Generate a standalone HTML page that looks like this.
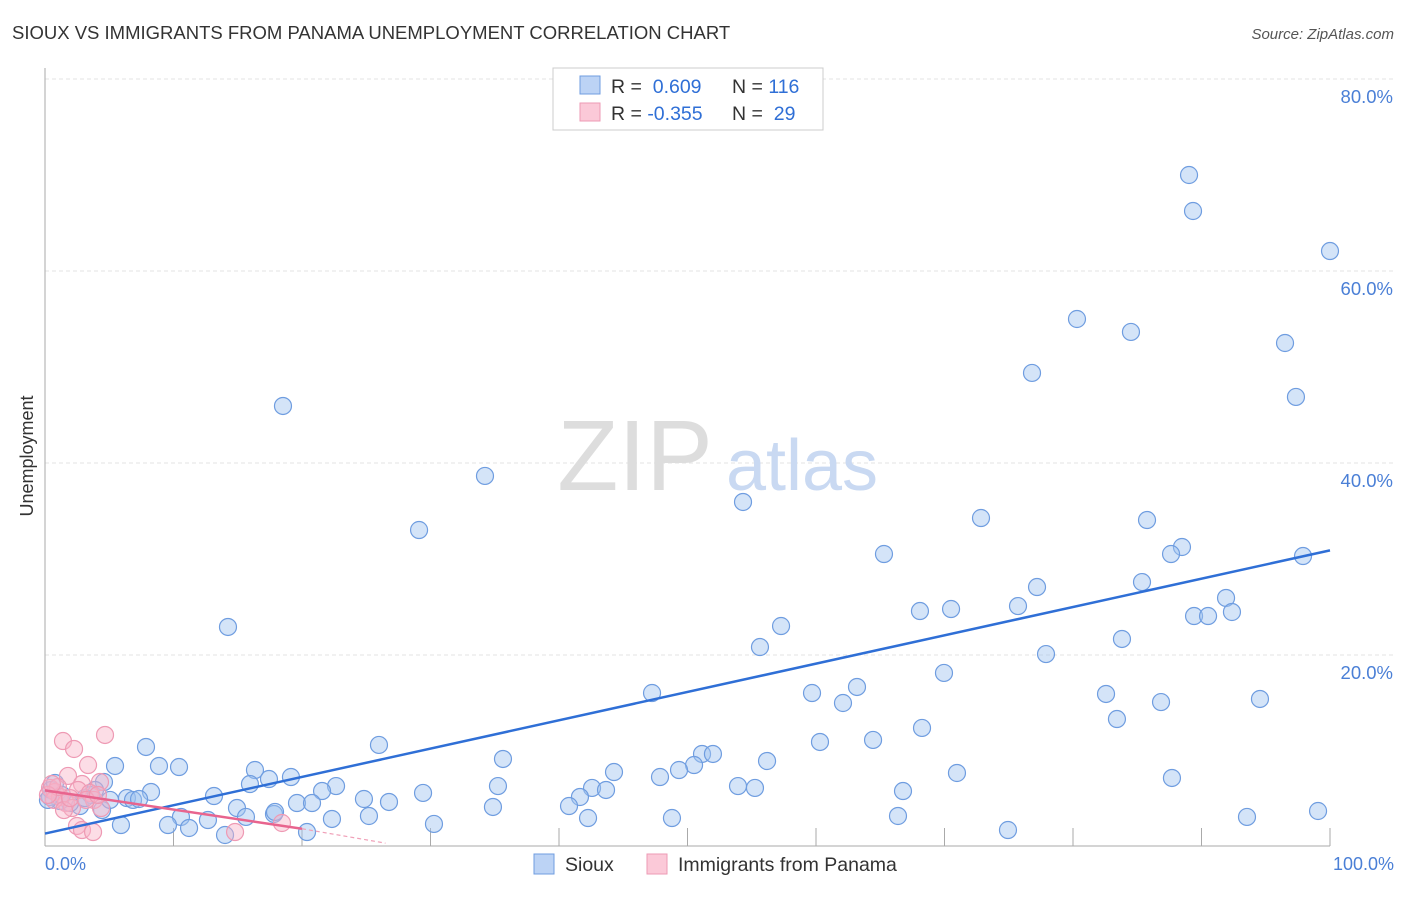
<!DOCTYPE html>
<html><head><meta charset="utf-8"><style>
body{margin:0;background:#fff;font-family:"Liberation Sans",sans-serif}
svg text{font-family:"Liberation Sans",sans-serif}
</style></head><body>
<svg width="1406" height="892">
<text x="12" y="39" font-size="18.5" fill="#333">SIOUX VS IMMIGRANTS FROM PANAMA UNEMPLOYMENT CORRELATION CHART</text>
<text x="1394" y="39" font-size="15" fill="#555" font-style="italic" text-anchor="end">Source: ZipAtlas.com</text>
<g id="grid"></g>
<text x="635" y="490" font-size="100" fill="#ddd" font-family="Liberation Serif" text-anchor="middle">ZIP</text>
<text x="802" y="490" font-size="72" fill="#c9d9f2" text-anchor="middle">atlas</text>
<line x1="45" y1="68" x2="45" y2="846" stroke="#aaa"/>
<line x1="45" y1="846" x2="1330" y2="846" stroke="#aaa"/>
<g id="pts"></g>
<g id="lines"></g>
<text x="33" y="456" font-size="18" fill="#333" transform="rotate(-90 33 456)" text-anchor="middle">Unemployment</text>
<text x="45" y="870" font-size="18" fill="#4a7fd6">0.0%</text>
<text x="1394" y="870" font-size="18" fill="#4a7fd6" text-anchor="end">100.0%</text>
<g>
<rect x="553" y="68" width="270" height="62" fill="#fff" stroke="#ccc"/>
<rect x="580" y="76" width="20" height="18" fill="#bcd3f5" stroke="#6f9de0"/>
<rect x="580" y="103" width="20" height="18" fill="#fbc9d8" stroke="#ee9ab4"/>
<text x="611" y="93" font-size="19.5" fill="#333">R = <tspan fill="#2f6fd6">&#160;0.609</tspan><tspan x="732">N = </tspan><tspan fill="#2f6fd6">116</tspan></text>
<text x="611" y="120" font-size="19.5" fill="#333">R = <tspan fill="#2f6fd6">-0.355</tspan><tspan x="732">N = </tspan><tspan fill="#2f6fd6">&#160;29</tspan></text>
</g>
<g>
<rect x="534" y="854" width="20" height="20" fill="#bcd3f5" stroke="#6f9de0"/>
<text x="565" y="871" font-size="19.5" fill="#333">Sioux</text>
<rect x="647" y="854" width="20" height="20" fill="#fbc9d8" stroke="#ee9ab4"/>
<text x="678" y="871" font-size="19.5" fill="#333">Immigrants from Panama</text>
</g>
</svg>
<script>
const yTicks=[20,40,60,80];
const xTicks=[10,20,30,40,50,60,70,80,90,100];
const siouxPx=[[1189,175],[1193,211],[1330,251],[1077,319],[1131,332],[1285,343],[1032,373],[1296,397],[283,406],[485,476],[743,502],[419,530],[981,518],[1147,520],[884,554],[1182,547],[1171,554],[1303,556],[1142,582],[1037,587],[1226,598],[920,611],[951,609],[1018,606],[1194,616],[1208,616],[1232,612],[228,627],[781,626],[760,647],[1122,639],[1046,654],[944,673],[652,693],[812,693],[857,687],[1106,694],[843,703],[1161,702],[1260,699],[1117,719],[922,728],[873,740],[820,742],[146,747],[379,745],[702,754],[713,754],[503,759],[694,765],[767,761],[115,766],[159,766],[179,767],[255,770],[614,772],[291,777],[269,779],[957,773],[660,777],[679,770],[1172,778],[498,786],[738,786],[755,788],[104,782],[250,784],[336,786],[592,788],[606,790],[151,792],[322,791],[214,796],[127,798],[133,800],[91,795],[139,799],[364,799],[389,802],[423,793],[580,797],[297,803],[312,803],[903,791],[237,808],[493,807],[569,806],[102,810],[80,806],[70,803],[60,801],[50,797],[274,814],[208,820],[181,817],[246,817],[275,812],[168,825],[369,816],[332,819],[898,816],[588,818],[672,818],[1247,817],[1318,811],[121,825],[434,824],[189,828],[225,835],[307,832],[1008,830],[51,790],[55,783],[48,800],[62,795],[85,798],[95,790],[110,800]];
const panamaPx=[[63,741],[74,749],[105,735],[88,765],[68,776],[82,784],[78,790],[100,782],[50,788],[55,792],[60,797],[66,803],[72,808],[90,793],[94,800],[101,808],[77,826],[82,830],[93,832],[235,832],[282,823],[54,800],[58,787],[48,795],[64,810],[70,798],[52,784],[86,800],[98,795]];
const siouxX=siouxPx.map(p=>+((p[0]-45)/12.85).toFixed(2));
const siouxY=siouxPx.map(p=>+((847-p[1])/9.6).toFixed(2));
const panamaX=panamaPx.map(p=>+((p[0]-45)/12.85).toFixed(2));
const panamaY=panamaPx.map(p=>+((847-p[1])/9.6).toFixed(2));
const siouxTrend=[[0,1.4],[100,30.9]];
const panamaTrend=[[0,5.9],[20,1.9],[26.5,0.4]];
const sx=v=>45+v*12.85, sy=v=>847-v*9.6;
const NS="http://www.w3.org/2000/svg";
function mk(t,a){const e=document.createElementNS(NS,t);for(const k in a)e.setAttribute(k,a[k]);return e;}
const g=document.getElementById('grid');
yTicks.forEach(v=>{
 const l=mk('line',{x1:45,x2:1394,y1:sy(v),y2:sy(v),stroke:'#e3e3e3','stroke-dasharray':'4,3'});
 
 
 g.appendChild(l);
 const t=mk('text',{x:1393,y:sy(v)+24,'font-size':18.5,fill:'#4a7fd6','text-anchor':'end'});
 t.textContent=v.toFixed(1)+'%';
 
 
 g.appendChild(t);
});
xTicks.forEach(v=>{
 const l=mk('line',{x1:sx(v),x2:sx(v),y1:828,y2:846,stroke:'#aaa'});
 
 
 g.appendChild(l);
});
const P=document.getElementById('pts');
siouxX.forEach((x,i)=>{
 const c=mk('circle',{cx:sx(x),cy:sy(siouxY[i]),r:8.5,fill:'rgba(160,195,240,0.45)',stroke:'#6f9de0','stroke-width':1.2});
 
 
 P.appendChild(c);
});
panamaX.forEach((x,i)=>{
 const c=mk('circle',{cx:sx(x),cy:sy(panamaY[i]),r:8.5,fill:'rgba(248,180,200,0.45)',stroke:'#ee9ab4','stroke-width':1.2});
 
 
 P.appendChild(c);
});
const L=document.getElementById('lines');
let l1=mk('line',{x1:sx(siouxTrend[0][0]),y1:sy(siouxTrend[0][1]),x2:sx(siouxTrend[1][0]),y2:sy(siouxTrend[1][1]),stroke:'#2f6fd6','stroke-width':2.5});


L.appendChild(l1);
let l2=mk('line',{x1:sx(panamaTrend[0][0]),y1:sy(panamaTrend[0][1]),x2:sx(panamaTrend[1][0]),y2:sy(panamaTrend[1][1]),stroke:'#e8648e','stroke-width':2.5});


L.appendChild(l2);
let l3=mk('line',{x1:sx(panamaTrend[1][0]),y1:sy(panamaTrend[1][1]),x2:sx(panamaTrend[2][0]),y2:sy(panamaTrend[2][1]),stroke:'#f0a0b8','stroke-width':1.2,'stroke-dasharray':'4,3'});


L.appendChild(l3);
</script>
</body></html>
